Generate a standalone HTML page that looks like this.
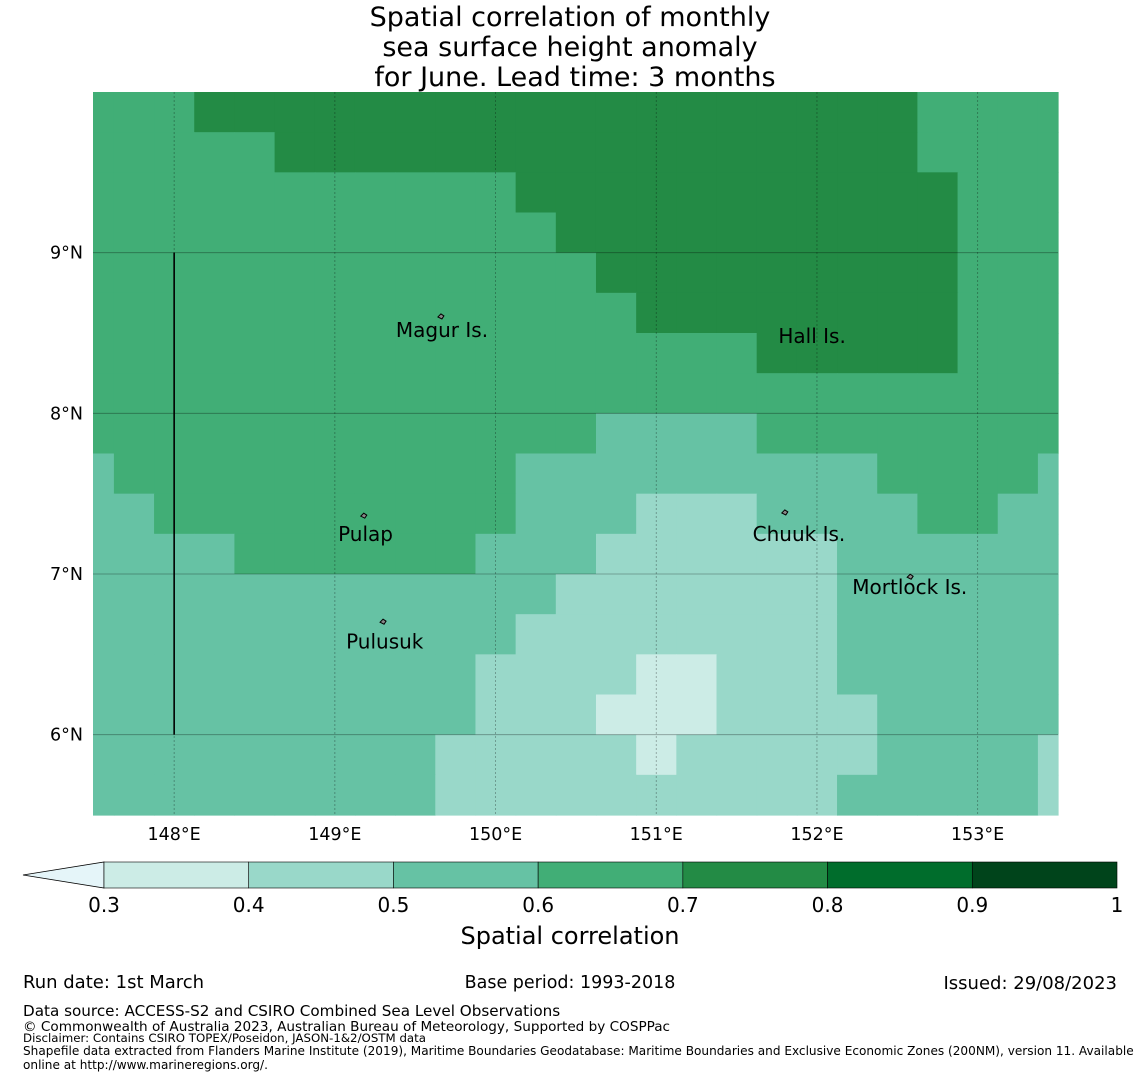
<!DOCTYPE html>
<html><head><meta charset="utf-8">
<style>
body{margin:0;background:#fff;width:1140px;height:1080px;overflow:hidden;font-family:"Liberation Sans","DejaVu Sans",sans-serif;}
svg{position:absolute;left:0;top:0}
text{font-family:"DejaVu Sans","Liberation Sans",sans-serif;}
</style></head><body>
<svg id="chart" width="1140" height="1080"></svg>
<script>
// grid value rows (north to south), each 25 columns from 147.5E to 153.5E
const rowCodes = [
"DDDEEEEEEEEEEEEEEEEEEDDDD",
"DDDDDEEEEEEEEEEEEEEEEDDDD",
"DDDDDDDDDDDEEEEEEEEEEEDDD",
"DDDDDDDDDDDDEEEEEEEEEEDDD",
"DDDDDDDDDDDDDEEEEEEEEEDDD",
"DDDDDDDDDDDDDDEEEEEEEEDDD",
"DDDDDDDDDDDDDDDDDEEEEEDDD",
"DDDDDDDDDDDDDDDDDDDDDDDDD",
"DDDDDDDDDDDDDCCCCDDDDDDDD",
"CDDDDDDDDDDCCCCCCCCCDDDDC",
"CCDDDDDDDDDCCCBBBCCCCDDCC",
"CCCCDDDDDDCCCBBBBBBCCCCCC",
"CCCCCCCCCCCCBBBBBBBCCCCCC",
"CCCCCCCCCCCBBBBBBBBCCCCCC",
"CCCCCCCCCCBBBBAABBBCCCCCC",
"CCCCCCCCCCBBBAAABBBBCCCCC",
"CCCCCCCCCBBBBBABBBBBCCCCB",
"CCCCCCCCCBBBBBBBBBBCCCCCB"];
const codeValues = {A:0.35,B:0.45,C:0.55,D:0.65,E:0.75};
const levels = [0.3,0.4,0.5,0.6,0.7,0.8,0.9,1.0];
const levelColors = ["#ccece6","#99d8c9","#66c2a4","#41ae76","#238b45","#006d2c","#00441b"];
const lonTicks = [148,149,150,151,152,153];
const latTicks = [9,8,7,6];
const places = [
 {name:"Magur Is.",lon:149.38,lat:8.52,ilon:149.66,ilat:8.6},
 {name:"Hall Is.",lon:151.76,lat:8.48,ilon:null},
 {name:"Pulap",lon:149.02,lat:7.25,ilon:149.18,ilat:7.36},
 {name:"Chuuk Is.",lon:151.6,lat:7.25,ilon:151.8,ilat:7.38},
 {name:"Mortlock Is.",lon:152.22,lat:6.92,ilon:152.58,ilat:6.98},
 {name:"Pulusuk",lon:149.07,lat:6.58,ilon:149.3,ilat:6.7}];

const X0=93,X1=1058,Y0=92,Y1=815;
const lonMin=147.495,lonMax=153.5,latMax=10.0,latMin=5.5;
const xs=l=>X0+(l-lonMin)/(lonMax-lonMin)*(X1-X0);
const ys=l=>Y0+(latMax-l)/(latMax-latMin)*(Y1-Y0);
const NS="http://www.w3.org/2000/svg";
const svg=document.getElementById('chart');
function mk(t,a,p){const e=document.createElementNS(NS,t);for(const k in a)e.setAttribute(k,a[k]);(p||svg).appendChild(e);return e;}
function colorFor(v){for(let i=0;i<levelColors.length;i++){if(v<levels[i+1])return levelColors[i];}return levelColors[levelColors.length-1];}

const g=mk('g',{});


rowCodes.forEach((row,r)=>{
  const latTop=latMax-0.25*r, latBot=latTop-0.25;
  for(let c=0;c<row.length;c++){
    const lonC=147.5+0.25*c;
    const l0=Math.max(lonMin,lonC-0.125), l1=Math.min(lonMax,lonC+0.125);
    const v=codeValues[row[c]];
    const x0=xs(l0),x1=xs(l1),y0=ys(latTop),y1=ys(latBot);
    const e=mk('rect',{x:x0,y:y0,width:x1-x0+0.6,height:y1-y0+0.6,fill:colorFor(v)},g);
    
    
  }
});
lonTicks.forEach(l=>{const e=mk('line',{x1:xs(l),x2:xs(l),y1:Y0,y2:Y1,stroke:"#000","stroke-opacity":0.35,"stroke-width":0.8,"stroke-dasharray":"2,2"});
  
  const t=mk('text',{x:xs(l),y:840,"font-size":17.5,"text-anchor":"middle"});t.textContent=l+"°E";
  });
latTicks.forEach(l=>{const e=mk('line',{x1:X0,x2:X1,y1:ys(l),y2:ys(l),stroke:"#000","stroke-opacity":0.35,"stroke-width":0.8});
  
  const t=mk('text',{x:83,y:ys(l)+6,"font-size":17.5,"text-anchor":"end"});t.textContent=l+"°N";
  });
const vl=mk('line',{x1:xs(148),x2:xs(148),y1:ys(9),y2:ys(6),stroke:"#000","stroke-width":1.6});

places.forEach(p=>{
  if(p.ilon!==null){const e=mk('path',{d:`M${xs(p.ilon)-3},${ys(p.ilat)} l3,-3 l3,2 l-2,3 z`,fill:"#888",stroke:"#000","stroke-width":1});
    }
  const t=mk('text',{x:xs(p.lon),y:ys(p.lat)+7,"font-size":20});t.textContent=p.name;
  
});
const CB0=104,CB1=1117,CBY=862,CBH=26;
const cbx=v=>CB0+(v-0.3)/(1-0.3)*(CB1-CB0);
const tri=mk('polygon',{points:`23,${CBY+CBH/2} ${CB0},${CBY} ${CB0},${CBY+CBH}`,fill:"#e5f5f9",stroke:"#000","stroke-width":0.8});

levelColors.forEach((c,i)=>{const e=mk('rect',{x:cbx(levels[i]),y:CBY,width:cbx(levels[i+1])-cbx(levels[i]),height:CBH,fill:c,stroke:"#000","stroke-width":0.6});
  });
levels.forEach(v=>{const t=mk('text',{x:cbx(v),y:912,"font-size":20,"text-anchor":"middle"});t.textContent=(v===1?"1":v.toFixed(1));
  });
function txt(x,y,s,size,name,anchor){const t=mk('text',{x:x,y:y,"font-size":size,"text-anchor":anchor||"start"});t.textContent=s;
  return t;}
txt(570,944,"Spatial correlation",24,"colorbar-title","middle");
txt(570,26,"Spatial correlation of monthly",27,"chart-title","middle");
txt(570,56,"sea surface height anomaly",27,"chart-title","middle");
txt(575,86,"for June. Lead time: 3 months",27,"chart-title","middle");
txt(23,988,"Run date: 1st March",18,"run-date");
txt(570,988,"Base period: 1993-2018",17.5,"base-period","middle");
txt(1117,989,"Issued: 29/08/2023",18,"issued-date","end");
txt(23,1016,"Data source: ACCESS-S2 and CSIRO Combined Sea Level Observations",15.2,"data-source");
txt(23,1031,"© Commonwealth of Australia 2023, Australian Bureau of Meteorology, Supported by COSPPac",13.6,"copyright");
txt(23,1042,"Disclaimer: Contains CSIRO TOPEX/Poseidon, JASON-1&2/OSTM data",11.8,"disclaimer");
txt(23,1055,"Shapefile data extracted from Flanders Marine Institute (2019), Maritime Boundaries Geodatabase: Maritime Boundaries and Exclusive Economic Zones (200NM), version 11. Available",12.1,"shapefile-credit");
txt(23,1069,"online at http://www.marineregions.org/.",12.1,"shapefile-credit");
</script>
</body></html>
